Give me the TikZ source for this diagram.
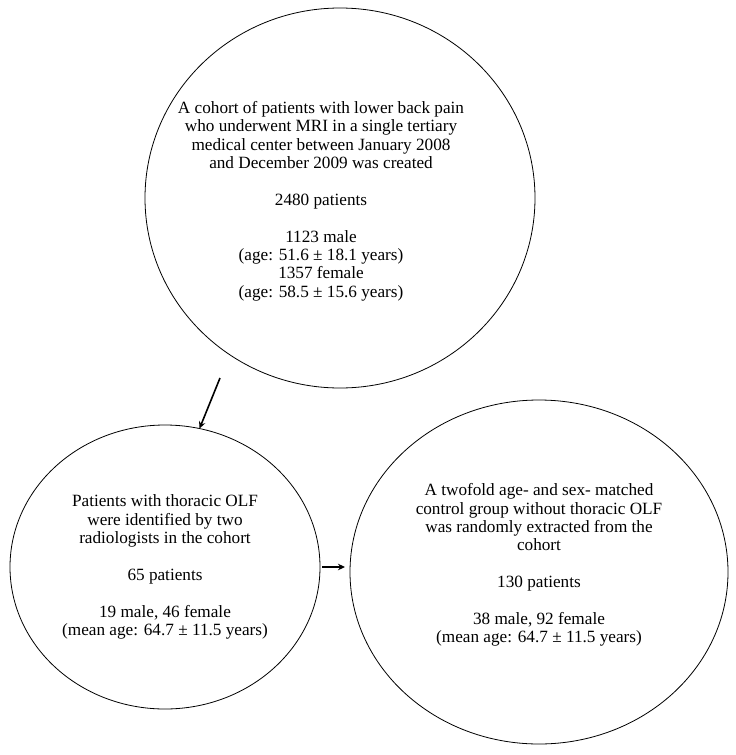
\documentclass[tikz,border=0pt]{standalone}
\usepackage{fontspec}
\setmainfont{Liberation Serif}
\usetikzlibrary{arrows.meta,shapes.geometric,positioning}

\tikzset{
  bubble/.style={ellipse,draw=black,line width=0.8pt,inner sep=0pt,outer sep=0pt},
  bubbletext/.style={align=center,font=\fontsize{17.2}{18.4}\selectfont,inner sep=0pt},
  arr/.style={line width=1.6pt,-{Stealth[length=7pt,width=6.5pt]}}
}

\begin{document}
\begin{tikzpicture}[x=1pt,y=1pt]
\useasboundingbox (0,0) rectangle (736,-755);

% the three groups
\node[bubble,minimum width=390pt,minimum height=380pt] (cohort) at (340,-198) {};
\node[bubble,minimum width=310pt,minimum height=284pt] (olf) at (165,-567) {};
\node[bubble,minimum width=378pt,minimum height=344pt] (control) at (539,-572) {};

\node[bubbletext] (cohorttxt) at (321,-201) {A cohort of patients with lower back pain\\
who underwent MRI in a single tertiary\\
medical center between January 2008\\
and December 2009 was created\\[18.4pt]
2480 patients\\[18.4pt]
1123 male\\
(age: 51.6 ± 18.1 years)\\
1357 female\\
(age: 58.5 ± 15.6 years)};

\node[bubbletext] (olftxt) at (165,-567) {Patients with thoracic OLF\\
were identified by two\\
radiologists in the cohort\\[18.4pt]
65 patients\\[18.4pt]
19 male, 46 female\\
(mean age: 64.7 ± 11.5 years)};

\node[bubbletext] (controltxt) at (539,-565) {A twofold age- and sex- matched\\
control group without thoracic OLF\\
was randomly extracted from the\\
cohort\\[18.4pt]
130 patients\\[18.4pt]
38 male, 92 female\\
(mean age: 64.7 ± 11.5 years)};

% arrows
\coordinate (cohortout) at (220,-378);
\draw[arr] (cohortout) -- (olf.76);
\draw[arr,shorten <=2pt,shorten >=5pt] (olf.east) -- (olf.east -| control.west);

\end{tikzpicture}
\end{document}
